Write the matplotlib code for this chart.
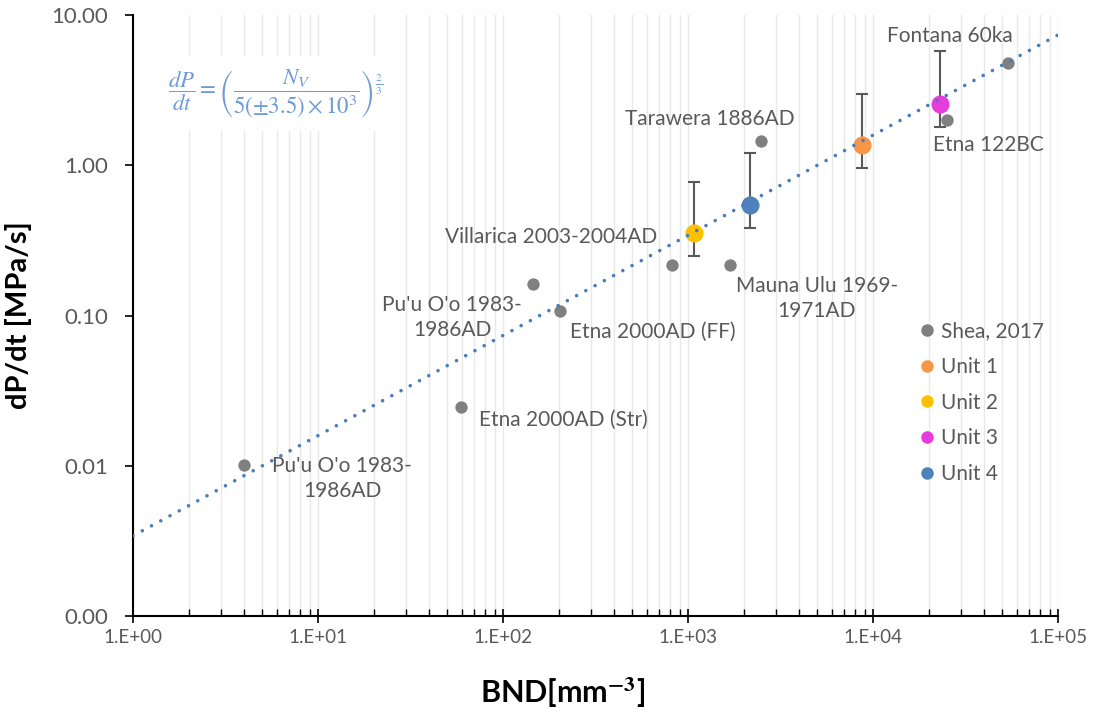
import numpy as np
import matplotlib
matplotlib.use("Agg")
import matplotlib.pyplot as plt
from matplotlib.ticker import FixedLocator, LogLocator, NullFormatter
from matplotlib.lines import Line2D

plt.rcParams["font.family"] = ["Lato", "DejaVu Sans"]
plt.rcParams["mathtext.fontset"] = "stix"

# Shea, 2017 (grey points)
shea_names = [
    "Pu'u O'o 1983-\n1986AD", "Etna 2000AD (Str)", "Pu'u O'o 1983-\n1986AD",
    "Etna 2000AD (FF)", "Villarica 2003-2004AD", "Mauna Ulu 1969-\n1971AD",
    "Tarawera 1886AD", "Etna 122BC", "Fontana 60ka",
]
shea_bnd = [3.98, 59.3, 145, 203, 820, 1690, 2480, 25100, 53700]
shea_rate = [0.0101, 0.0245, 0.161, 0.108, 0.216, 0.216, 1.445, 1.995, 4.78]

# this study units
units = ["Unit 1", "Unit 2", "Unit 3", "Unit 4"]
unit_bnd = [8720, 1077, 23000, 2163]
unit_rate = [1.36, 0.352, 2.55, 0.542]
unit_hi = [2.97, 0.77, 5.74, 1.2]
unit_lo = [0.955, 0.248, 1.79, 0.381]
unit_colors = ["#f79646", "#ffc000", "#e43ddc", "#4f81bd"]

# trend: dP/dt = (Nv / 5e3)^(2/3)
fit_scale = 5e3
fit_exp = 2 / 3

grey_txt = "#595959"

fig = plt.figure(figsize=(10.94, 7.19), dpi=100)
ax = fig.add_axes([0.1216, 0.1432, 0.8455, 0.8359])
ax.set_xscale("log")
ax.set_yscale("log")
ax.set_xlim(1, 1e5)
ax.set_ylim(1e-3, 10)

# vertical grid lines only
ax.xaxis.set_minor_locator(LogLocator(base=10, subs=np.arange(2, 10)))
ax.xaxis.set_minor_formatter(NullFormatter())
ax.grid(axis="x", which="both", color="#e8e8e8", linewidth=1.0)
ax.set_axisbelow(True)

ax.yaxis.set_major_locator(FixedLocator([1e-3, 1e-2, 1e-1, 1, 10]))
ax.yaxis.set_minor_locator(FixedLocator([]))
ax.set_yticklabels(["0.00", "0.01", "0.10", "1.00", "10.00"])
ax.set_xticks([1, 10, 100, 1e3, 1e4, 1e5])
ax.set_xticklabels(["1.E+00", "1.E+01", "1.E+02", "1.E+03", "1.E+04", "1.E+05"])

ax.tick_params(axis="y", which="major", direction="out", length=6, width=1.2,
               labelsize=16, labelcolor=grey_txt, pad=12)
ax.tick_params(axis="x", which="major", direction="inout", length=10, width=1.2,
               labelsize=13.5, labelcolor=grey_txt, pad=4)
ax.tick_params(axis="x", which="minor", direction="in", length=5, width=1.0)

for side in ["top", "right"]:
    ax.spines[side].set_visible(False)
for side in ["left", "bottom"]:
    ax.spines[side].set_linewidth(1.5)

# error bars
for x, y, hi, lo in zip(unit_bnd, unit_rate, unit_hi, unit_lo):
    ax.errorbar([x], [y], yerr=[[y - lo], [hi - y]], fmt="none",
                ecolor="#595959", elinewidth=1.5, capsize=4, capthick=1.5, zorder=2)

ax.scatter(shea_bnd, shea_rate, s=79, color="#808080", zorder=3, linewidths=0)
for x, y, c in zip(unit_bnd, unit_rate, unit_colors):
    ax.scatter([x], [y], s=170, color=c, zorder=3, linewidths=0)

xf = np.logspace(0, 5, 100)
ax.plot(xf, (xf / fit_scale) ** fit_exp, linestyle=(0, (0.01, 2.9)), color="#4a7ebb",
        linewidth=2.6, dash_capstyle="round", zorder=4)

# label centres in data coordinates
label_x = [13.5, 211, 53.0, 647, 181.6, 4980, 1315, 41870, 26070]
label_y = [0.00824, 0.0201, 0.0973, 0.0773, 0.332, 0.130, 2.02, 1.36, 7.22]
for lx, ly, name in zip(label_x, label_y, shea_names):
    ax.text(lx, ly, name, ha="center", va="center", fontsize=15, color=grey_txt,
            linespacing=1.3)

# equation
fig.text(0.2514, 0.870,
         r"$\dfrac{dP}{dt}=\left(\dfrac{N_V}{5(\pm3.5)\times10^3}\right)^{\frac{2}{3}}$",
         fontsize=16.5, color="#6f9bd8", ha="center", va="center",
         bbox=dict(facecolor="white", edgecolor="none", pad=8))

ax.set_ylabel("dP/dt [MPa/s]", fontsize=21, fontweight="bold", labelpad=14)
ax.set_xlabel(r"BND[mm$^{\mathbf{-3}}$]", fontsize=22, fontweight="bold", labelpad=18)
ax.xaxis.set_label_coords(0.464, -0.098)

handles = [Line2D([], [], marker="o", linestyle="none", markersize=9,
                  markerfacecolor="#808080", markeredgewidth=0)]
for c in unit_colors:
    handles.append(Line2D([], [], marker="o", linestyle="none", markersize=9,
                          markerfacecolor=c, markeredgewidth=0))
leg = fig.legend(handles, ["Shea, 2017"] + units, loc="upper left",
                 bbox_to_anchor=(0.8205, 0.579), frameon=False, fontsize=15,
                 handletextpad=0.17, labelspacing=0.75, handlelength=1.0)
for t in leg.get_texts():
    t.set_color(grey_txt)

fig.savefig("out.png", dpi=100)
